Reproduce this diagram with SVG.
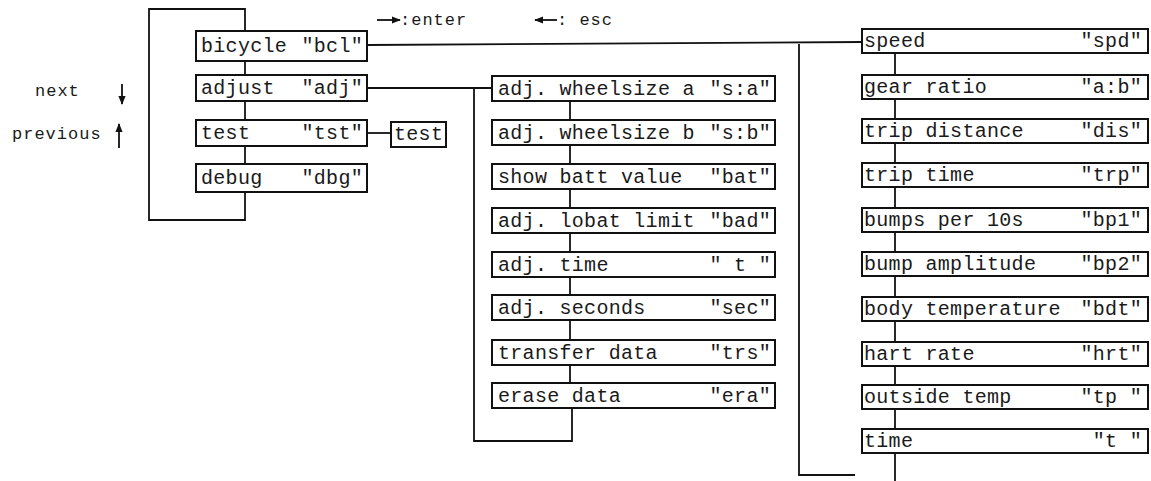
<svg xmlns="http://www.w3.org/2000/svg" width="1151" height="481" viewBox="0 0 1151 481">
<style>
.box{fill:#fff;stroke:#111;stroke-width:2}
.ln{fill:none;stroke:#111;stroke-width:1.8}
text{font-family:"Liberation Mono","DejaVu Sans Mono",monospace;font-size:20px;fill:#1a1a1a;letter-spacing:0.3px}
.e{text-anchor:end}
.lg{font-size:17px;letter-spacing:1px}
</style>
<defs>
<marker id="ah" viewBox="0 0 10 10" refX="9" refY="5" markerWidth="9" markerHeight="9" orient="auto-start-reverse" markerUnits="userSpaceOnUse">
<path d="M0,1 L10,5 L0,9 z" fill="#111"/>
</marker>
</defs>

<g id="legend">
<text class="lg" x="35" y="96">next</text>
<line class="ln" x1="122" y1="84" x2="122" y2="104" stroke-width="2.2" marker-end="url(#ah)"/>
<text class="lg" x="12" y="139">previous</text>
<line class="ln" x1="119" y1="148" x2="119" y2="124" stroke-width="2.2" marker-end="url(#ah)"/>
<line class="ln" x1="377" y1="20" x2="400" y2="20" stroke-width="2.2" marker-end="url(#ah)"/>
<text class="lg" x="400" y="25">:enter</text>
<line class="ln" x1="557" y1="20" x2="535" y2="20" stroke-width="2.2" marker-end="url(#ah)"/>
<text class="lg" x="557" y="25">: esc</text>
</g>

<g id="connectors">
<polyline class="ln" points="245,31 245,9 149,9 149,220 245,220 245,192"/>
<line class="ln" x1="245" y1="61" x2="245" y2="75"/>
<line class="ln" x1="245" y1="101" x2="245" y2="120"/>
<line class="ln" x1="245" y1="146" x2="245" y2="164"/>
<polyline class="ln" points="367,45 862,42"/>
<polyline class="ln" points="799,44 799,475 855,475"/>
<line class="ln" x1="367" y1="88" x2="492" y2="88"/>
<polyline class="ln" points="474,88 474,441 572,441 572,408"/>
<line class="ln" x1="367" y1="133" x2="391" y2="133"/>
<line class="ln" x1="570" y1="101" x2="570" y2="120"/>
<line class="ln" x1="570" y1="145" x2="570" y2="164"/>
<line class="ln" x1="570" y1="189" x2="570" y2="208"/>
<line class="ln" x1="570" y1="233" x2="570" y2="252"/>
<line class="ln" x1="570" y1="277" x2="570" y2="295"/>
<line class="ln" x1="570" y1="320" x2="570" y2="340"/>
<line class="ln" x1="570" y1="365" x2="570" y2="383"/>
<line class="ln" x1="895" y1="53" x2="895" y2="75"/>
<line class="ln" x1="895" y1="99" x2="895" y2="119"/>
<line class="ln" x1="895" y1="143" x2="895" y2="163"/>
<line class="ln" x1="895" y1="187" x2="895" y2="208"/>
<line class="ln" x1="895" y1="232" x2="895" y2="252"/>
<line class="ln" x1="895" y1="276" x2="895" y2="297"/>
<line class="ln" x1="895" y1="321" x2="895" y2="342"/>
<line class="ln" x1="895" y1="366" x2="895" y2="385"/>
<line class="ln" x1="895" y1="409" x2="895" y2="429"/>
<line class="ln" x1="895" y1="453" x2="895" y2="481"/>
</g>

<g id="n-bicycle"><rect class="box" x="196" y="31" width="171" height="30"/><text x="201" y="52">bicycle</text><text class="e" x="363" y="52">"bcl"</text></g>
<g id="n-adjust"><rect class="box" x="196" y="75" width="171" height="26"/><text x="201" y="94">adjust</text><text class="e" x="363" y="94">"adj"</text></g>
<g id="n-test"><rect class="box" x="196" y="120" width="171" height="26"/><text x="201" y="139">test</text><text class="e" x="363" y="139">"tst"</text></g>
<g id="n-debug"><rect class="box" x="196" y="164" width="171" height="28"/><text x="201" y="184">debug</text><text class="e" x="363" y="184">"dbg"</text></g>
<g id="n-test2"><rect class="box" x="391" y="122" width="55" height="25"/><text x="394" y="140">test</text></g>

<g id="n-sa"><rect class="box" x="492" y="76" width="283" height="25"/><text x="498" y="95">adj. wheelsize a</text><text class="e" x="771" y="95">"s:a"</text></g>
<g id="n-sb"><rect class="box" x="492" y="120" width="283" height="25"/><text x="498" y="139">adj. wheelsize b</text><text class="e" x="771" y="139">"s:b"</text></g>
<g id="n-bat"><rect class="box" x="492" y="164" width="283" height="25"/><text x="498" y="183">show batt value</text><text class="e" x="771" y="183">"bat"</text></g>
<g id="n-bad"><rect class="box" x="492" y="208" width="283" height="25"/><text x="498" y="227">adj. lobat limit</text><text class="e" x="771" y="227">"bad"</text></g>
<g id="n-t"><rect class="box" x="492" y="252" width="283" height="25"/><text x="498" y="271">adj. time</text><text class="e" x="771" y="271">" t "</text></g>
<g id="n-sec"><rect class="box" x="492" y="295" width="283" height="25"/><text x="498" y="314">adj. seconds</text><text class="e" x="771" y="314">"sec"</text></g>
<g id="n-trs"><rect class="box" x="492" y="340" width="283" height="25"/><text x="498" y="359">transfer data</text><text class="e" x="771" y="359">"trs"</text></g>
<g id="n-era"><rect class="box" x="492" y="383" width="283" height="25"/><text x="498" y="402">erase data</text><text class="e" x="771" y="402">"era"</text></g>

<g id="n-spd"><rect class="box" x="862" y="29" width="286" height="24"/><text x="864" y="47">speed</text><text class="e" x="1142" y="47">"spd"</text></g>
<g id="n-ab"><rect class="box" x="862" y="75" width="286" height="24"/><text x="864" y="93">gear ratio</text><text class="e" x="1142" y="93">"a:b"</text></g>
<g id="n-dis"><rect class="box" x="862" y="119" width="286" height="24"/><text x="864" y="137">trip distance</text><text class="e" x="1142" y="137">"dis"</text></g>
<g id="n-trp"><rect class="box" x="862" y="163" width="286" height="24"/><text x="864" y="181">trip time</text><text class="e" x="1142" y="181">"trp"</text></g>
<g id="n-bp1"><rect class="box" x="862" y="208" width="286" height="24"/><text x="864" y="226">bumps per 10s</text><text class="e" x="1142" y="226">"bp1"</text></g>
<g id="n-bp2"><rect class="box" x="862" y="252" width="286" height="24"/><text x="864" y="270">bump amplitude</text><text class="e" x="1142" y="270">"bp2"</text></g>
<g id="n-bdt"><rect class="box" x="862" y="297" width="286" height="24"/><text x="864" y="315">body temperature</text><text class="e" x="1142" y="315">"bdt"</text></g>
<g id="n-hrt"><rect class="box" x="862" y="342" width="286" height="24"/><text x="864" y="360">hart rate</text><text class="e" x="1142" y="360">"hrt"</text></g>
<g id="n-tp"><rect class="box" x="862" y="385" width="286" height="24"/><text x="864" y="403">outside temp</text><text class="e" x="1142" y="403">"tp "</text></g>
<g id="n-time"><rect class="box" x="862" y="429" width="286" height="24"/><text x="864" y="447">time</text><text class="e" x="1142" y="447">"t  "</text></g>
</svg>
